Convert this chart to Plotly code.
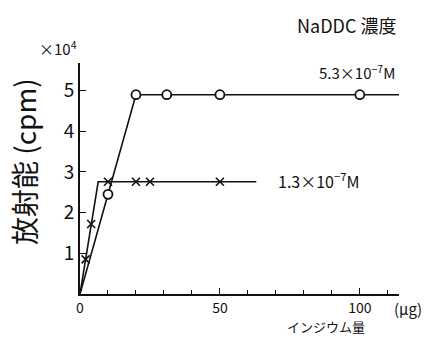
import plotly.graph_objects as go

# Indium amount (µg) vs. radioactivity (×10^4 cpm) for two NaDDC concentrations
hi_line_x = [0, 10, 20, 31, 50, 100, 114]
hi_line_y = [0, 2.45, 4.9, 4.9, 4.9, 4.9, 4.9]
hi_pts_x = [10, 20, 31, 50, 100]
hi_pts_y = [2.45, 4.9, 4.9, 4.9, 4.9]

lo_line_x = [0, 2, 4, 6.5, 10, 20, 25, 50, 63]
lo_line_y = [0, 0.85, 1.72, 2.76, 2.76, 2.76, 2.76, 2.76, 2.76]
lo_pts_x = [2, 4, 10, 20, 25, 50]
lo_pts_y = [0.85, 1.72, 2.76, 2.76, 2.76, 2.76]

x_tickvals = [0, 50, 100]
x_ticktext = ["0", "50", "100"]
y_tickvals = [1, 2, 3, 4, 5]
y_ticktext = ["1", "2", "3", "4", "5"]

W, H = 435, 340
L, R, T, B = 80, 36, 63, 46

def px(x, y):
    return (x - L) / (W - L - R), (H - B - y) / (H - T - B)

FONT = "Noto Sans CJK JP"
ink = "#111"

fig = go.Figure()
fig.add_trace(go.Scatter(x=hi_line_x, y=hi_line_y, mode="lines",
                         line=dict(color=ink, width=1.6), cliponaxis=False))
fig.add_trace(go.Scatter(x=lo_line_x, y=lo_line_y, mode="lines",
                         line=dict(color=ink, width=1.6), cliponaxis=False))
fig.add_trace(go.Scatter(x=hi_pts_x, y=hi_pts_y, mode="markers", cliponaxis=False,
                         marker=dict(symbol="circle", size=9, color="white",
                                     line=dict(color=ink, width=1.8))))
fig.add_trace(go.Scatter(x=lo_pts_x, y=lo_pts_y, mode="markers", cliponaxis=False,
                         marker=dict(symbol="x-thin", size=8,
                                     line=dict(color=ink, width=1.6))))

annots = [
    (24, 162, "放射能 (cpm)", 28, -90, "center"),
    (58, 48, "×10<sup>4</sup>", 15, 0, "center"),
    (346, 25, "NaDDC 濃度", 18, 0, "center"),
    (357, 72, "5.3×10<sup>−7</sup>M", 15, 0, "center"),
    (318, 180, "1.3×10<sup>−7</sup>M", 16, 0, "center"),
    (326, 326, "インジウム量", 13, 0, "center"),
    (408, 308, "(μg)", 15, 0, "center"),
]
for x, y, t, s, ang, al in annots:
    ax, ay = px(x, y)
    fig.add_annotation(x=ax, y=ay, xref="paper", yref="paper", text=t,
                       showarrow=False, textangle=ang, xanchor=al, yanchor="middle",
                       font=dict(family=FONT, size=s, color=ink))

fig.update_layout(
    width=W, height=H, margin=dict(l=L, r=R, t=T, b=B),
    paper_bgcolor="white", plot_bgcolor="white", showlegend=False,
    font=dict(family=FONT, color=ink),
    xaxis=dict(range=[0, 114], showgrid=False, zeroline=False, showline=True,
               linecolor=ink, linewidth=2, ticks="inside", ticklen=6, tickwidth=1.2,
               tickcolor=ink, tickvals=x_tickvals, ticktext=x_ticktext,
               tickfont=dict(size=14, family=FONT, color=ink),
               minor=dict(tick0=0, dtick=10, ticks="inside", ticklen=4,
                          tickwidth=1.2, tickcolor=ink, showgrid=False)),
    yaxis=dict(range=[0, 5.68], showgrid=False, zeroline=False, showline=True,
               linecolor=ink, linewidth=2, ticks="inside", ticklen=6, tickwidth=1.2,
               tickcolor=ink, tickvals=y_tickvals, ticktext=y_ticktext,
               tickfont=dict(size=19, family=FONT, color=ink)),
)

fig.write_html("out.html")
